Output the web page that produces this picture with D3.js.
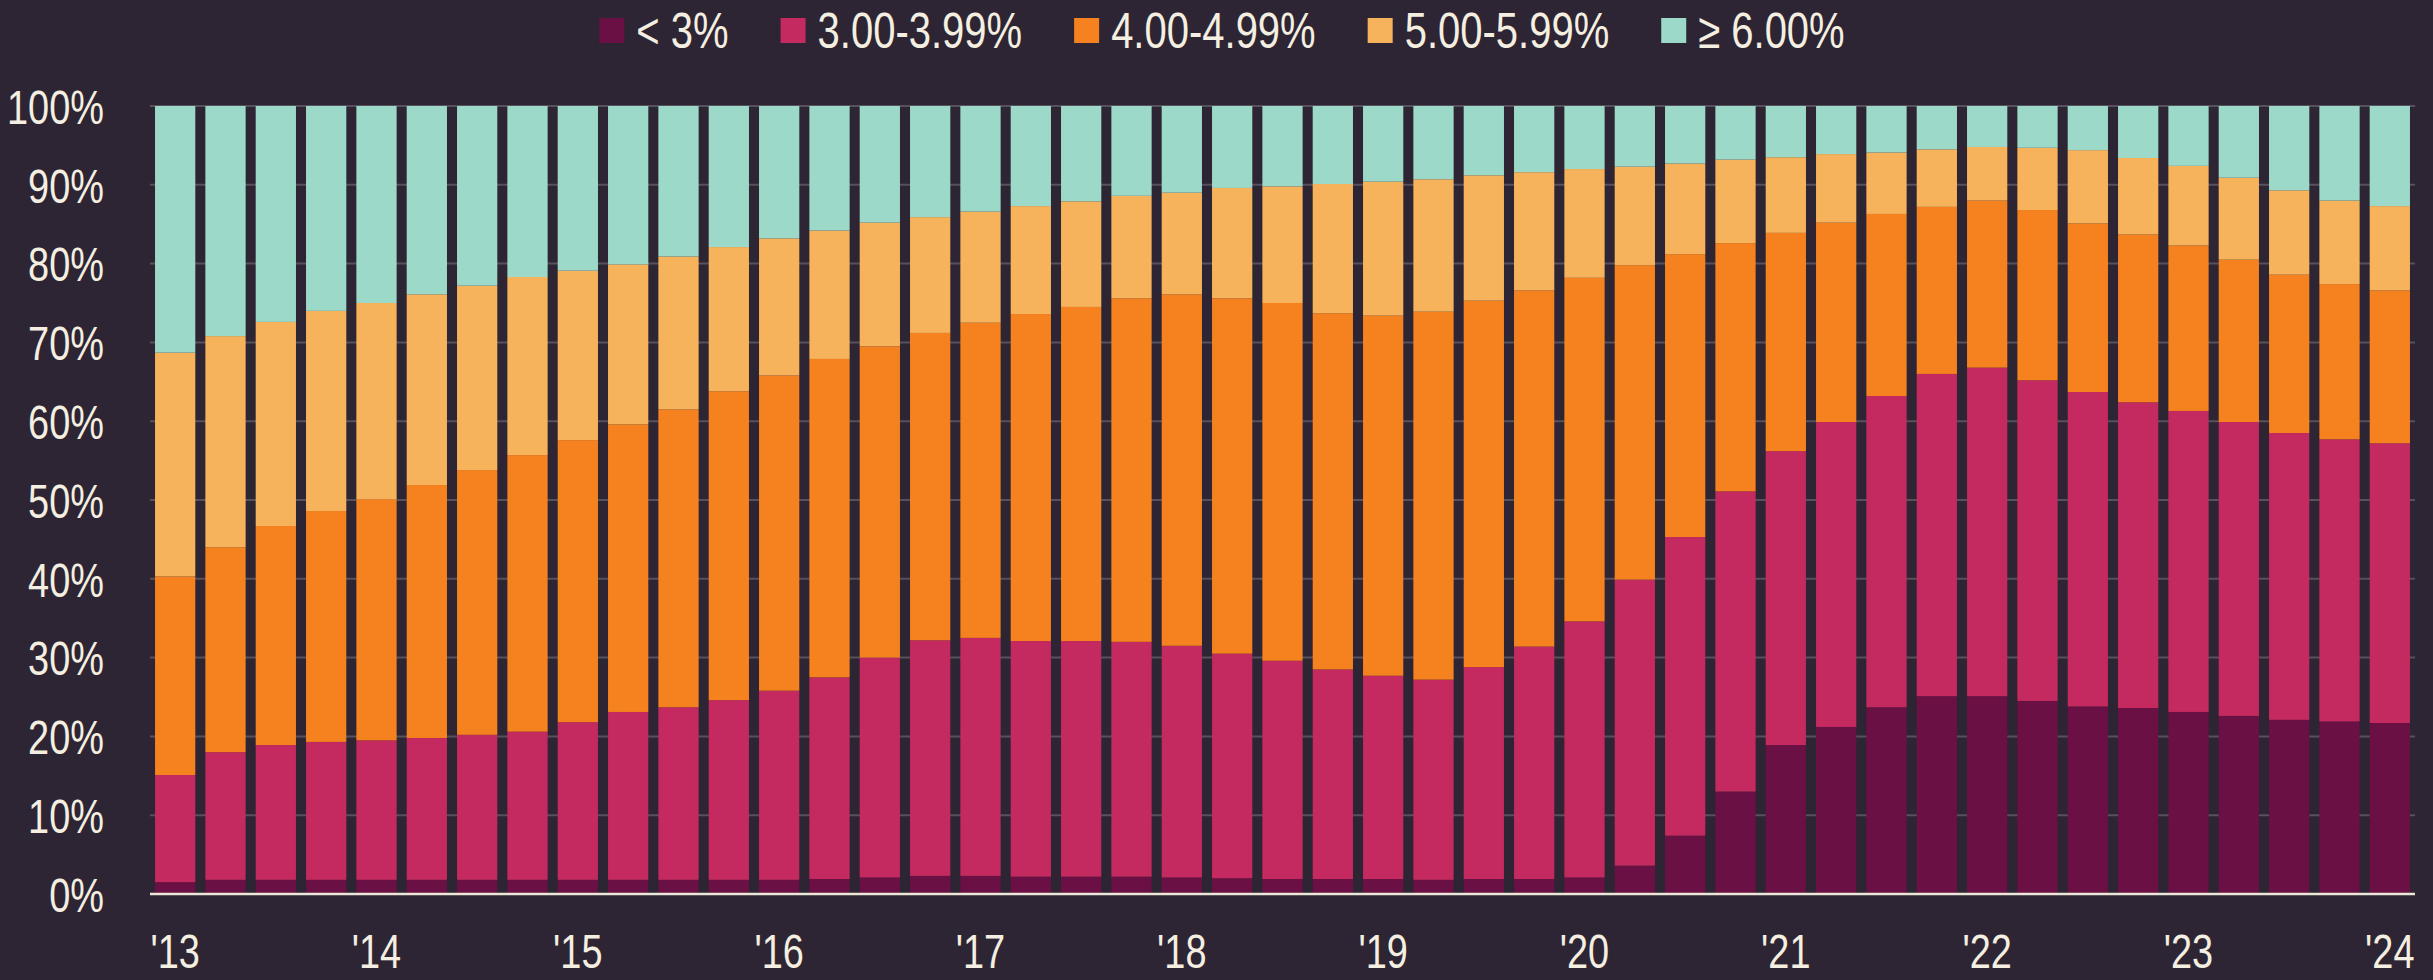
<!DOCTYPE html>
<html>
<head>
<meta charset="utf-8">
<script src="https://cdn.jsdelivr.net/npm/d3@7"></script>
<style>
  html, body { margin: 0; padding: 0; background: #2d2533; }
  svg { display: block; }
  text { font-family: "Liberation Sans", Arial, sans-serif; fill: #f4efe1; }
</style>
</head>
<body>
<div class="chart"></div>
<script>
// quarters from Q1 2013 to Q1 2024
const quarters = [
  "2013Q1","2013Q2","2013Q3","2013Q4","2014Q1","2014Q2","2014Q3","2014Q4",
  "2015Q1","2015Q2","2015Q3","2015Q4","2016Q1","2016Q2","2016Q3","2016Q4",
  "2017Q1","2017Q2","2017Q3","2017Q4","2018Q1","2018Q2","2018Q3","2018Q4",
  "2019Q1","2019Q2","2019Q3","2019Q4","2020Q1","2020Q2","2020Q3","2020Q4",
  "2021Q1","2021Q2","2021Q3","2021Q4","2022Q1","2022Q2","2022Q3","2022Q4",
  "2023Q1","2023Q2","2023Q3","2023Q4","2024Q1"
];
const yearTicks = ["2013Q1","2014Q1","2015Q1","2016Q1","2017Q1","2018Q1","2019Q1","2020Q1","2021Q1","2022Q1","2023Q1","2024Q1"];
const yearLabels = ["'13","'14","'15","'16","'17","'18","'19","'20","'21","'22","'23","'24"];

const seriesNames = ["< 3%", "3.00-3.99%", "4.00-4.99%", "5.00-5.99%", "\u2265 6.00%"];
const seriesColors = ["#6a1044", "#c4295f", "#f5821f", "#f6b35b", "#9cd9c9"];

// share of mortgages (%) in each rate bucket
const below3 = [1.5,1.8,1.8,1.8,1.8,1.8,1.8,1.8,1.8,1.8,1.8,1.8,1.8,1.9,2.1,2.3,2.3,2.2,2.2,2.2,2.1,2.0,1.9,1.9,1.9,1.8,1.9,1.9,2.1,3.6,7.4,13.0,18.9,21.2,23.7,25.1,25.1,24.5,23.8,23.6,23.1,22.6,22.1,21.9,21.7];
const r3to4 = [13.6,16.2,17.1,17.5,17.7,18.0,18.4,18.8,20.0,21.3,21.9,22.8,24.0,25.6,27.9,29.9,30.2,29.9,29.9,29.8,29.4,28.5,27.7,26.6,25.8,25.4,26.9,29.5,32.5,36.3,37.9,38.1,37.3,38.7,39.5,40.9,41.7,40.7,39.9,38.8,38.2,37.3,36.4,35.8,35.5];
const r4to5 = [25.2,26.0,27.8,29.3,30.6,32.1,33.6,35.1,35.8,36.5,37.8,39.2,40.0,40.4,39.5,39.0,40.0,41.5,42.4,43.6,44.6,45.1,45.4,45.2,45.7,46.7,46.5,45.2,43.6,39.9,35.9,31.5,27.7,25.3,23.1,21.2,21.2,21.6,21.4,21.3,21.0,20.6,20.1,19.7,19.4];
const r5to6 = [28.4,26.8,25.9,25.4,24.9,24.2,23.4,22.6,21.5,20.3,19.4,18.3,17.4,16.3,15.7,14.7,14.1,13.7,13.4,13.0,12.9,14.0,14.8,16.4,17.0,16.8,15.9,15.0,13.8,12.5,11.5,10.6,9.6,8.7,7.8,7.3,6.8,7.9,9.3,9.7,10.1,10.4,10.7,10.6,10.7];
const above6 = [31.3,29.2,27.4,26.0,25.0,23.9,22.8,21.7,20.9,20.1,19.1,17.9,16.8,15.8,14.8,14.1,13.4,12.7,12.1,11.4,11.0,10.4,10.2,9.9,9.6,9.3,8.8,8.4,8.0,7.7,7.3,6.8,6.5,6.1,5.9,5.5,5.2,5.3,5.6,6.6,7.6,9.1,10.7,12.0,12.7];

const yTicks = [0, 10, 20, 30, 40, 50, 60, 70, 80, 90, 100];

const width = 2433, height = 980;
const margin = { top: 106, right: 18, bottom: 86, left: 150 };
const narrow = 0.79; // squeeze text to look like a narrow face
const fontSize = 48;
const legendSize = 50;
const legendNarrow = 0.8;

const seriesArrays = [below3, r3to4, r4to5, r5to6, above6];
const keys = ["s0", "s1", "s2", "s3", "s4"];
const table = quarters.map((q, i) => {
  const row = { q };
  keys.forEach((k, j) => row[k] = seriesArrays[j][i]);
  return row;
});

const stacked = d3.stack().keys(keys)(table);

const svg = d3.select(".chart").append("svg")
  .attr("width", width)
  .attr("height", height)
  .style("background-color", "#2d2533");

const x = d3.scaleBand()
  .domain(quarters)
  .range([margin.left, width - margin.right])
  .paddingInner(0.2)
  .paddingOuter(0.1);

const y = d3.scaleLinear()
  .domain([0, 100])
  .range([height - margin.bottom, margin.top]);

// gridlines
svg.append("g")
  .selectAll("line")
  .data(yTicks.filter(d => d > 0))
  .join("line")
  .attr("x1", margin.left)
  .attr("x2", width - margin.right)
  .attr("y1", d => y(d))
  .attr("y2", d => y(d))
  .attr("stroke", "#57515d")
  .attr("stroke-width", 2);

// bars
const color = d3.scaleOrdinal().domain(keys).range(seriesColors);
svg.append("g")
  .selectAll("g")
  .data(stacked)
  .join("g")
  .attr("fill", d => color(d.key))
  .selectAll("rect")
  .data(d => d)
  .join("rect")
  .attr("x", d => x(d.data.q))
  .attr("width", x.bandwidth())
  .attr("y", d => y(d[1]))
  .attr("height", d => y(d[0]) - y(d[1]));

// baseline
svg.append("line")
  .attr("x1", margin.left)
  .attr("x2", width - margin.right)
  .attr("y1", y(0))
  .attr("y2", y(0))
  .attr("stroke", "#ece6d8")
  .attr("stroke-width", 2.5);

// y axis labels
const yAxis = svg.append("g")
  .attr("transform", `translate(${margin.left - 46},0)`)
  .call(d3.axisLeft(y).tickValues(yTicks).tickFormat(d => d + "%").tickSize(0).tickPadding(0));
yAxis.select(".domain").remove();
yAxis.selectAll("text")
  .attr("fill", "#f4efe1")
  .style("font-size", fontSize + "px")
  .attr("dy", "0.36em")
  .attr("transform", `scale(${narrow},1)`);

// x axis labels
const xAxis = svg.append("g")
  .attr("transform", `translate(0,${y(0)})`)
  .call(d3.axisBottom(x).tickValues(yearTicks).tickFormat((d, i) => yearLabels[i]).tickSize(0).tickPadding(40));
xAxis.select(".domain").remove();
xAxis.selectAll("text")
  .attr("fill", "#f4efe1")
  .style("font-size", fontSize + "px")
  .attr("transform", `scale(${narrow},1)`);

// legend
const legend = svg.append("g").attr("transform", "translate(0,30)");
const items = legend.selectAll("g")
  .data(seriesNames)
  .join("g");
items.append("rect")
  .attr("width", 25)
  .attr("height", 25)
  .attr("y", -12)
  .attr("fill", (d, i) => seriesColors[i]);
items.append("g")
  .attr("transform", "translate(37,0)")
  .append("text")
  .attr("dy", "0.36em")
  .attr("transform", `scale(${legendNarrow},1)`)
  .style("font-size", legendSize + "px")
  .text(d => d);

let cursor = 0;
const offsets = [];
items.each(function() {
  offsets.push(cursor);
  const w = 37 + this.querySelector("text").getComputedTextLength() * legendNarrow;
  cursor += w + 52;
});
const total = cursor - 52;
const legendX = 1222 - total / 2;
items.attr("transform", (d, i) => `translate(${legendX + offsets[i]},0)`);
</script>
</body>
</html>
